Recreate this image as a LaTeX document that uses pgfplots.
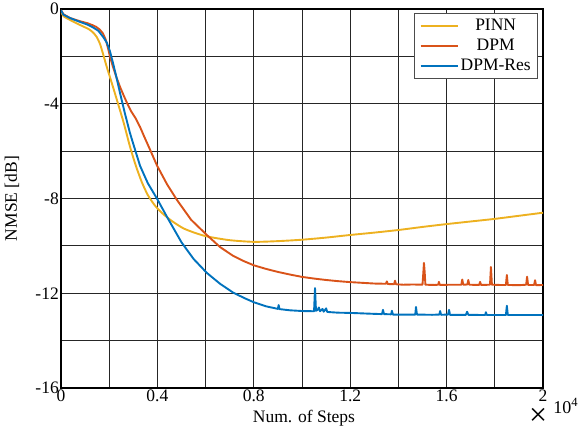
\documentclass[border=0pt]{standalone}
\usepackage{pgfplots}
\pgfplotsset{compat=1.18}
\usepackage{fontspec}
\setmainfont{Liberation Serif}
\definecolor{mYellow}{rgb}{0.929,0.694,0.125}
\definecolor{mRed}{rgb}{0.850,0.325,0.098}
\definecolor{mBlue}{rgb}{0.000,0.447,0.741}
\begin{document}
\begin{tikzpicture}
\begin{axis}[
  scale only axis, width=482pt, height=379pt,
  xmin=0, xmax=2, ymin=-16, ymax=0,
  xtick={0,0.4,0.8,1.2,1.6,2},
  xticklabels={0,0.4,0.8,1.2,1.6,2},
  minor xtick={0.2,0.6,1.0,1.4,1.8},
  ytick={-16,-12,-8,-4,0},
  yticklabels={-16,-12,-8,-4,0},
  minor ytick={-14,-10,-6,-2},
  grid=both,
  major grid style={black!85, line width=1pt},
  minor grid style={black!85, line width=1pt},
  major tick length=0pt, minor tick length=0pt,
  axis line style={line width=1.8pt},
  /pgf/number format/assume math mode=true,
  tick label style={font=\fontsize{17.5}{19}\selectfont},
  xticklabel style={inner sep=1pt, yshift=-1pt},
  yticklabel style={inner sep=1pt, xshift=-1pt},
  label style={font=\fontsize{17.5}{19}\selectfont},
  xlabel={Num. of Steps}, ylabel={NMSE [dB]},
  xlabel style={at={(axis description cs:0.504,-0.079)}, anchor=center},
  ylabel style={at={(axis description cs:-0.1017,0.5)}, anchor=center},
  legend style={at={(0.9896,0.989)}, anchor=north east, draw=black!70,
    line width=0.6pt, fill=white, font=\fontsize{17.5}{19}\selectfont,
    row sep=3pt, inner xsep=5pt, inner ysep=4pt},
  legend cell align=center,
  legend image code/.code={\draw[#1] (0pt,0pt) -- (37pt,0pt);},
  every axis plot/.append style={line width=1.9pt, line join=round},
  clip mode=individual,
]
\coordinate (SW) at (rel axis cs:0,0);
\coordinate (NE) at (rel axis cs:1,1);
% PINN
\addplot[mYellow, smooth, tension=0.4] coordinates {
(0,-0.1) (0.01,-0.3) (0.037,-0.46) (0.08,-0.68) (0.115,-0.85) (0.133,-0.99)
(0.148,-1.18) (0.162,-1.48) (0.176,-1.95) (0.19,-2.45) (0.21,-3.1)
(0.232,-3.84) (0.26,-4.8) (0.286,-5.8) (0.31,-6.6) (0.335,-7.3)
(0.36,-7.85) (0.39,-8.3) (0.42,-8.62) (0.46,-8.95) (0.506,-9.25)
(0.55,-9.43) (0.605,-9.6) (0.7,-9.76) (0.8,-9.83) (0.9,-9.8)
(1.0,-9.74) (1.1,-9.65) (1.2,-9.54) (1.3,-9.44) (1.4,-9.33)
(1.5,-9.2) (1.6,-9.08) (1.7,-8.97) (1.8,-8.86) (1.9,-8.73) (2.0,-8.6)
};
\addlegendentry{PINN}
% DPM
\addplot[mRed] coordinates {
(0,-0.05) (0.01,-0.22) (0.037,-0.38) (0.08,-0.52) (0.11,-0.6) (0.13,-0.68)
(0.145,-0.75) (0.16,-0.86) (0.174,-1.03) (0.185,-1.28) (0.195,-1.65)
(0.203,-2.0) (0.215,-2.42) (0.23,-2.88) (0.245,-3.29) (0.26,-3.65)
(0.274,-3.97) (0.29,-4.3) (0.31,-4.62) (0.328,-4.98) (0.345,-5.38)
(0.37,-5.95) (0.398,-6.6) (0.44,-7.4) (0.481,-8.06) (0.54,-8.9)
(0.605,-9.54) (0.66,-10.05) (0.714,-10.42) (0.76,-10.65) (0.8,-10.82)
(0.85,-10.97) (0.9,-11.1) (0.95,-11.21) (1.0,-11.31) (1.05,-11.38)
(1.1,-11.44) (1.15,-11.49) (1.2,-11.53) (1.25,-11.56) (1.3,-11.59)
(1.348,-11.6) (1.352,-11.5) (1.356,-11.61) (1.382,-11.62) (1.386,-11.47)
(1.39,-11.62) (1.42,-11.64) (1.46,-11.63) (1.5,-11.64)
(1.503,-11.2) (1.506,-10.72) (1.509,-11.1) (1.512,-11.64)
(1.55,-11.65) (1.565,-11.64) (1.568,-11.52) (1.572,-11.65)
(1.62,-11.64) (1.661,-11.64) (1.665,-11.42) (1.669,-11.64)
(1.686,-11.63) (1.69,-11.44) (1.694,-11.64) (1.735,-11.65) (1.739,-11.52)
(1.743,-11.65) (1.78,-11.64) (1.784,-10.89) (1.788,-11.64)
(1.82,-11.65) (1.846,-11.65) (1.85,-11.23) (1.854,-11.65)
(1.9,-11.66) (1.93,-11.64) (1.934,-11.3) (1.938,-11.65)
(1.963,-11.65) (1.967,-11.45) (1.971,-11.66) (2.0,-11.65)
};
\addlegendentry{DPM}
% DPM-Res
\addplot[mBlue] coordinates {
(0,-0.05) (0.01,-0.24) (0.037,-0.38) (0.08,-0.55) (0.11,-0.66) (0.13,-0.76)
(0.155,-0.92) (0.175,-1.18) (0.19,-1.42) (0.203,-1.78) (0.215,-2.25)
(0.23,-2.88) (0.245,-3.55) (0.265,-4.4) (0.286,-5.23) (0.3,-5.7)
(0.328,-6.62) (0.36,-7.35) (0.398,-8.0) (0.44,-8.78) (0.5,-9.85)
(0.55,-10.55) (0.605,-11.14) (0.66,-11.6) (0.714,-11.97) (0.76,-12.2)
(0.8,-12.38) (0.85,-12.55) (0.9,-12.66) (0.903,-12.5) (0.907,-12.67)
(0.95,-12.72) (1.0,-12.75) (1.05,-12.76) (1.054,-11.78) (1.058,-12.74)
(1.065,-12.7) (1.07,-12.6) (1.075,-12.76) (1.085,-12.66) (1.09,-12.78)
(1.1,-12.64) (1.105,-12.79) (1.15,-12.82) (1.2,-12.83) (1.25,-12.85)
(1.3,-12.87) (1.332,-12.88) (1.336,-12.7) (1.34,-12.88) (1.37,-12.89)
(1.373,-12.74) (1.377,-12.9) (1.43,-12.9) (1.47,-12.9) (1.473,-12.58)
(1.477,-12.9) (1.54,-12.91) (1.57,-12.9) (1.573,-12.75) (1.577,-12.91)
(1.606,-12.9) (1.61,-12.7) (1.614,-12.91) (1.68,-12.91) (1.685,-12.78)
(1.69,-12.91) (1.76,-12.92) (1.763,-12.8) (1.767,-12.92) (1.846,-12.92)
(1.85,-12.53) (1.854,-12.92) (1.9,-12.92) (1.95,-12.92) (2.0,-12.92)
};
\addlegendentry{DPM-Res}
\node[font=\fontsize{32}{32}\selectfont, inner sep=0pt] at (axis description cs:0.99,-0.077) {×};
\node[font=\fontsize{18}{19}\selectfont, inner sep=0pt, anchor=base west] at (axis description cs:1.021,-0.066) {10\textsuperscript{4}};
\end{axis}
\pgfresetboundingbox
\path ([shift={(-61pt,-45pt)}]SW) rectangle ([shift={(36pt,9pt)}]NE);
\end{tikzpicture}
\end{document}
